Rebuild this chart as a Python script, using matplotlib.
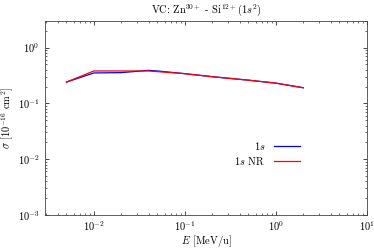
import matplotlib
matplotlib.use("Agg")
import matplotlib.pyplot as plt
from matplotlib.ticker import LogLocator, NullFormatter

plt.rcParams['font.family'] = ['cmr10', 'DejaVu Serif']
plt.rcParams['mathtext.fontset'] = 'cm'
plt.rcParams['axes.formatter.use_mathtext'] = True
plt.rcParams['font.size'] = 7.5

energy = [0.005, 0.01, 0.02, 0.04, 0.05, 0.1, 0.2, 0.5, 1.0, 2.0]
sigma_1s = [0.24, 0.35, 0.355, 0.39, 0.38, 0.34, 0.30, 0.26, 0.23, 0.19]
sigma_1s_nr = [0.24, 0.38, 0.38, 0.38, 0.37, 0.34, 0.30, 0.26, 0.23, 0.19]

fig = plt.figure(figsize=(3.74, 2.49), dpi=100)
ax = fig.add_axes([0.120, 0.137, 0.861, 0.779])
ax.plot(energy, sigma_1s, color='#0000ff', lw=0.9, label=r'$1s$')
ax.plot(energy, sigma_1s_nr, color='#ff0000', lw=0.9, label=r'$1s$ NR')
ax.set_xscale('log')
ax.set_yscale('log')
ax.set_xlim(0.0029, 10)
ax.set_ylim(1e-3, 3)
ax.xaxis.set_minor_locator(LogLocator(base=10, subs=range(2, 10), numticks=20))
ax.yaxis.set_minor_locator(LogLocator(base=10, subs=range(2, 10), numticks=20))
ax.xaxis.set_minor_formatter(NullFormatter())
ax.yaxis.set_minor_formatter(NullFormatter())
ax.tick_params(which='both', direction='in', top=True, right=True, labelsize=7.5)
ax.tick_params(which='major', length=3, width=0.5, pad=4)
ax.tick_params(axis='x', which='major', pad=3)
ax.tick_params(which='minor', length=1.5, width=0.4)
for s in ax.spines.values():
    s.set_linewidth(0.6)
    s.set_color('#444444')
ax.set_xlabel(r'$E$ [MeV/u]', fontsize=7.5, labelpad=0)
ax.set_ylabel(r'$\sigma$ [$10^{-16}$ cm$^2$]', fontsize=7.5, labelpad=1)
ax.set_title(r'VC: Zn$^{30+}$ - Si$^{12+}$($1s^2$)', fontsize=7.5, pad=6)
ax.legend(loc='lower right', bbox_to_anchor=(0.82, 0.20), frameon=False, markerfirst=False,
          fontsize=7.5, handlelength=2.5, labelspacing=0.25)
fig.savefig('out.png', dpi=100)
